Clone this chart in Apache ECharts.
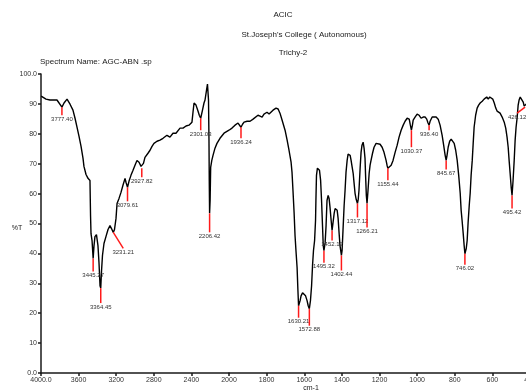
<!DOCTYPE html>
<html>
<head>
<meta charset="utf-8">
<script src="https://cdn.jsdelivr.net/npm/echarts@6/dist/echarts.min.js"></script>
<style>
  html, body { margin: 0; padding: 0; background: #ffffff; }
  #chart { width: 526px; height: 390px; }
</style>
</head>
<body>
<div id="chart"></div>
<script>
// FT-IR spectrum: wavenumber (cm-1) and transmittance (%T)
const wavenumber = [
  3998, 3989, 3947, 3904, 3862, 3830, 3809, 3777.40, 3755, 3723, 3691, 3660, 3638, 3617, 3596, 3574,
  3553, 3543, 3521, 3500, 3479, 3473, 3468, 3457, 3445.27, 3436, 3426, 3410, 3394, 3383, 3372, 3364.45,
  3356, 3346, 3330, 3309, 3287, 3266, 3250, 3231.21, 3218, 3202, 3191, 3170, 3149, 3128, 3106, 3096,
  3079.61, 3064, 3043, 3021, 3000, 2979, 2957, 2936, 2927.82, 2910, 2894, 2862, 2840, 2819, 2798, 2766,
  2734, 2702, 2660, 2628, 2596, 2564, 2521, 2489, 2457, 2426, 2394, 2383, 2372, 2351, 2330, 2316,
  2301.03, 2282, 2266, 2255, 2239, 2229, 2218, 2213, 2210, 2206.42, 2201, 2195, 2183, 2170, 2149, 2128,
  2096, 2053, 2000, 1984, 1968, 1952, 1944, 1936.24, 1928, 1920, 1904, 1888, 1872, 1862, 1846, 1835,
  1824, 1814, 1798, 1787, 1777, 1766, 1758, 1750, 1739, 1729, 1718, 1702, 1691, 1681, 1670, 1665,
  1660, 1654, 1649, 1644, 1638, 1634, 1630.21, 1622, 1617, 1609, 1601, 1593, 1585, 1579, 1572.88, 1567,
  1561, 1556, 1551, 1545, 1540, 1538, 1535, 1530, 1524, 1519, 1513, 1508, 1503, 1499, 1495.32, 1489,
  1484, 1479, 1473, 1468, 1463, 1457, 1452.12, 1447, 1441, 1436, 1431, 1425, 1420, 1415, 1410, 1402.44,
  1399, 1394, 1388, 1383, 1378, 1372, 1367, 1362, 1356, 1351, 1346, 1340, 1335, 1330, 1324, 1317.12,
  1313, 1309, 1303, 1298, 1293, 1287, 1282, 1277, 1274, 1270, 1266.21, 1261, 1255, 1250, 1245, 1237,
  1229, 1218, 1208, 1197, 1186, 1176, 1165, 1160, 1155.44, 1146, 1138, 1128, 1117, 1106, 1096, 1085,
  1074, 1064, 1053, 1048, 1042, 1037, 1030.37, 1025, 1021, 1011, 1000, 989, 979, 968, 957, 949,
  942, 936.40, 931, 920, 910, 899, 888, 878, 867, 859, 851, 845.67, 841, 835, 827, 819,
  811, 803, 795, 787, 779, 771, 766, 761, 755, 750, 746.02, 739, 734, 729, 723, 718,
  713, 707, 702, 697, 689, 681, 673, 665, 654, 644, 638, 630, 622, 614, 606, 598,
  590, 582, 575, 567, 559, 548, 537, 529, 522, 516, 511, 506, 500, 495.42, 490, 484,
  479, 474, 468, 463, 458, 452, 447, 442, 436, 431, 426.12, 420, 410, 400
];
const transmittance = [
  92.6, 92.3, 91.6, 91.3, 91.3, 91.3, 90.9, 88.9, 90.3, 91.6, 89.9, 87.9, 85.2, 82.2, 79.2, 75.8,
  71.8, 69.1, 66.4, 65.1, 64.4, 52.7, 46.6, 44.3, 38.3, 42.6, 45.6, 46.3, 42.6, 36.9, 29.2, 28.4,
  34.2, 39.3, 43.3, 45.6, 48.0, 49.3, 48.3, 47.0, 48.0, 51.7, 56.7, 58.4, 60.4, 62.8, 65.1, 63.8,
  62.1, 64.1, 66.1, 67.8, 69.5, 71.1, 70.5, 69.1, 68.5, 70.1, 72.1, 73.5, 74.5, 75.8, 76.8, 77.5,
  77.9, 78.5, 79.5, 78.9, 80.2, 80.2, 81.9, 81.9, 82.6, 82.9, 83.9, 87.2, 90.3, 89.6, 87.6, 86.2,
  85.2, 87.9, 90.3, 91.3, 94.6, 96.6, 91.3, 77.9, 64.4, 53.4, 57.7, 68.8, 71.1, 72.8, 75.2, 76.8,
  78.5, 80.2, 81.2, 81.9, 82.9, 83.6, 83.2, 82.2, 83.2, 83.9, 84.2, 84.2, 84.9, 85.2, 86.2, 85.9,
  85.6, 86.6, 87.2, 86.6, 87.2, 87.9, 87.6, 88.6, 88.3, 86.9, 84.6, 81.2, 77.9, 74.5, 70.5, 67.1,
  61.1, 53.7, 46.0, 40.9, 35.2, 28.2, 22.5, 24.2, 25.8, 26.8, 26.8, 25.8, 24.2, 22.5, 21.5, 24.2,
  29.2, 35.9, 40.9, 44.3, 51.0, 57.7, 66.1, 68.5, 68.8, 67.8, 64.4, 57.7, 49.3, 42.6, 40.9, 43.6,
  49.3, 57.7, 59.4, 58.4, 55.4, 51.0, 47.7, 50.3, 53.4, 55.0, 55.4, 54.4, 51.7, 47.0, 42.6, 39.3,
  40.9, 47.7, 56.0, 61.1, 67.1, 71.1, 73.2, 73.8, 72.8, 71.1, 69.1, 66.8, 63.4, 60.1, 58.1, 56.7,
  58.1, 61.1, 68.5, 73.8, 76.2, 77.2, 75.2, 71.8, 66.1, 59.4, 56.7, 61.1, 66.8, 69.5, 71.1, 73.5,
  75.5, 76.8, 77.2, 76.5, 75.5, 73.8, 71.1, 69.5, 68.5, 68.8, 69.5, 71.1, 73.8, 76.2, 78.9, 81.2,
  82.9, 84.2, 85.2, 85.6, 84.9, 83.2, 81.2, 82.9, 84.6, 85.6, 86.6, 86.2, 85.2, 85.6, 85.6, 84.9,
  83.6, 82.9, 84.2, 85.6, 85.9, 85.6, 84.9, 82.9, 79.5, 76.2, 72.8, 71.1, 72.8, 75.5, 77.5, 78.2,
  77.9, 76.8, 74.5, 71.1, 66.1, 60.1, 54.4, 51.0, 46.6, 42.6, 39.9, 41.6, 44.3, 50.3, 56.0, 60.1,
  66.1, 71.1, 76.8, 82.2, 86.2, 88.6, 89.6, 90.3, 90.9, 91.6, 91.9, 92.3, 91.6, 92.3, 92.3, 91.6,
  90.3, 88.6, 87.6, 87.2, 86.9, 85.6, 83.9, 81.9, 78.9, 75.5, 71.1, 67.1, 62.1, 59.4, 64.4, 71.1,
  77.9, 82.2, 85.6, 89.6, 91.3, 92.3, 92.6, 91.9, 90.6, 89.3, 88.9, 89.9, 91.3, 91.9
];

// Picked peaks (cm-1)
const peakWavenumbers = [
  3777.40, 3445.27, 3364.45, 3231.21, 3079.61, 2927.82, 2301.03, 2206.42, 1936.24, 1630.21, 1572.88, 1495.32,
  1452.12, 1402.44, 1317.12, 1266.21, 1155.44, 1030.37, 936.40, 845.67, 746.02, 495.42, 426.12
];

// Leader line offsets for each peak label, in pixels
const leaderDx = [0, 0, 0, 10, 0, 0, 0, 0, 0, 0, 0, 0, 0, 0, 0, 0, 0, 0, 0, 0, 0, 0, -8];
const leaderDy = [8, 13, 15, 16, 14, 9, 12, 19, 11, 12, 17, 12, 10, 15, 14, 24, 12, 17, 5, 9, 11, 13, 6];

// Y ticks and the scale break at 2000 cm-1
const yTicks = { min: 0, max: 100, step: 10 };
const BREAK = 2000;

const points = wavenumber.map((w, i) => [w, transmittance[i]]);
const highPart = points.filter(p => p[0] >= BREAK);
const lowPart = points.filter(p => p[0] <= BREAK);

const peakPoints = peakWavenumbers.map((w, k) => [w, transmittance[wavenumber.indexOf(w)], k]);
const highPeaks = peakPoints.filter(p => p[0] > BREAK);
const lowPeaks = peakPoints.filter(p => p[0] < BREAK);

const FONT = '"Liberation Sans", Arial, sans-serif';
const INK = '#1a1a1a';

function renderPeak(params, api) {
  const k = api.value(2);
  const p = api.coord([api.value(0), api.value(1)]);
  const x2 = p[0] + leaderDx[k];
  const y2 = p[1] + leaderDy[k];
  return {
    type: 'group',
    children: [
      {
        type: 'line',
        shape: { x1: p[0], y1: p[1], x2: x2, y2: y2 },
        style: { stroke: '#ff1a1a', lineWidth: 1.5 }
      },
      {
        type: 'text',
        x: x2,
        y: y2 + 1,
        style: {
          text: api.value(0).toFixed(2),
          align: 'center',
          verticalAlign: 'top',
          font: '6px ' + FONT,
          fill: '#333'
        }
      }
    ]
  };
}

const axisLineStyle = { color: INK, width: 1.5 };
const axisLabelStyle = { color: '#333', fontSize: 7, fontFamily: FONT, margin: 4 };

const chart = echarts.init(document.getElementById('chart'), null, { renderer: 'canvas' });
chart.setOption({
  animation: false,
  backgroundColor: '#ffffff',
  grid: [
    { left: 41, right: 297, top: 74, bottom: 17, outerBoundsMode: 'none', containLabel: false },
    { left: 229, right: -4, top: 74, bottom: 17, outerBoundsMode: 'none', containLabel: false }
  ],
  xAxis: [
    {
      type: 'value', gridIndex: 0, inverse: true, min: BREAK, max: 4000, interval: 400,
      axisLine: { lineStyle: axisLineStyle },
      axisTick: { lineStyle: axisLineStyle, length: 3 },
      splitLine: { show: false },
      axisLabel: Object.assign({}, axisLabelStyle, {
        showMinLabel: true, showMaxLabel: true, hideOverlap: false,
        formatter: v => v === 4000 ? '4000.0' : String(v)
      })
    },
    {
      type: 'value', gridIndex: 1, inverse: true, min: 400, max: BREAK, interval: 200,
      axisLine: { lineStyle: axisLineStyle },
      axisTick: { lineStyle: axisLineStyle, length: 3 },
      splitLine: { show: false },
      axisLabel: Object.assign({}, axisLabelStyle, {
        showMinLabel: true, showMaxLabel: true, hideOverlap: false,
        formatter: v => v === BREAK ? '' : String(v)
      })
    }
  ],
  yAxis: [
    {
      type: 'value', gridIndex: 0, min: yTicks.min, max: yTicks.max, interval: yTicks.step,
      axisLine: { show: true, lineStyle: axisLineStyle },
      axisTick: { show: true, lineStyle: axisLineStyle, length: 3 },
      splitLine: { show: false },
      axisLabel: Object.assign({}, axisLabelStyle, {
        formatter: v => (v === yTicks.max || v === yTicks.min) ? v.toFixed(1) : String(v)
      })
    },
    {
      type: 'value', gridIndex: 1, min: yTicks.min, max: yTicks.max, show: false
    }
  ],
  graphic: [
    { type: 'text', x: 283, y: 15, style: { text: 'ACIC', align: 'center', verticalAlign: 'middle', font: '8px ' + FONT, fill: INK } },
    { type: 'text', x: 304, y: 35, style: { text: "St.Joseph's College ( Autonomous)", align: 'center', verticalAlign: 'middle', font: '8px ' + FONT, fill: INK } },
    { type: 'text', x: 293, y: 53, style: { text: 'Trichy-2', align: 'center', verticalAlign: 'middle', font: '8px ' + FONT, fill: INK } },
    { type: 'text', x: 40, y: 62, style: { text: 'Spectrum Name: AGC-ABN .sp', align: 'left', verticalAlign: 'middle', font: '8px ' + FONT, fill: INK } },
    { type: 'text', x: 17, y: 228, style: { text: '%T', align: 'center', verticalAlign: 'middle', font: '7px ' + FONT, fill: INK } },
    { type: 'text', x: 311, y: 385, style: { text: 'cm-1', align: 'center', verticalAlign: 'top', font: '7px ' + FONT, fill: INK } }
  ],
  series: [
    {
      type: 'line', xAxisIndex: 0, yAxisIndex: 0, data: highPart,
      showSymbol: false, lineStyle: { color: '#000', width: 1.4 }, z: 3
    },
    {
      type: 'line', xAxisIndex: 1, yAxisIndex: 1, data: lowPart,
      showSymbol: false, lineStyle: { color: '#000', width: 1.4 }, z: 3
    },
    {
      type: 'custom', xAxisIndex: 0, yAxisIndex: 0, data: highPeaks, clip: false,
      encode: { x: 0, y: 1 }, renderItem: renderPeak, z: 4
    },
    {
      type: 'custom', xAxisIndex: 1, yAxisIndex: 1, data: lowPeaks, clip: false,
      encode: { x: 0, y: 1 }, renderItem: renderPeak, z: 4
    }
  ]
});
</script>
</body>
</html>
